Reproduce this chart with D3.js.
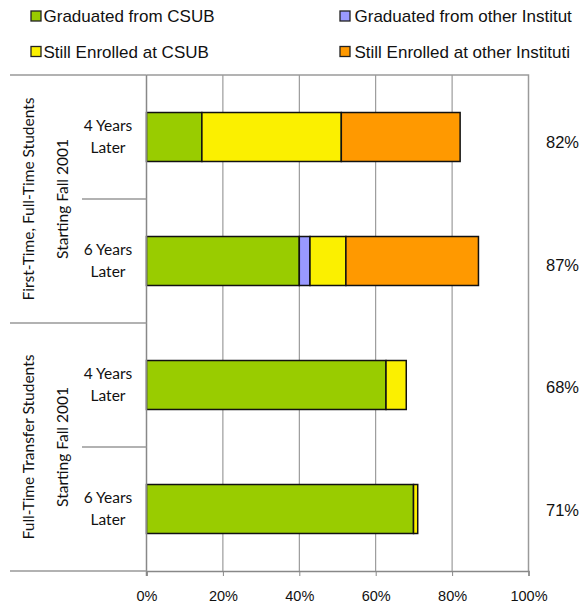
<!DOCTYPE html>
<html>
<head>
<meta charset="utf-8">
<script src="https://cdn.jsdelivr.net/npm/d3@7"></script>
<style>
  body { margin: 0; background: #fff; }
  svg { display: block; }
</style>
</head>
<body>
<svg id="chart" width="585" height="606"></svg>
<script>
// data (percent of cohort)
const rowKeys = ['ft4', 'ft6', 'tr4', 'tr6'];
const rowLabels = [['4 Years', 'Later'], ['6 Years', 'Later'], ['4 Years', 'Later'], ['6 Years', 'Later']];
const groupLabels = [['First-Time, Full-Time Students', 'Starting Fall 2001'], ['Full-Time Transfer Students', 'Starting Fall 2001']];
const seriesNames = ['Graduated from CSUB', 'Graduated from other Institut', 'Still Enrolled at CSUB', 'Still Enrolled at other Instituti'];
const gradCSUB = [14.5, 40.0, 62.7, 69.9];
const gradOther = [0, 2.8, 0, 0];
const enrolledCSUB = [36.5, 9.4, 5.3, 1.1];
const enrolledOther = [31.1, 34.7, 0, 0];
const totalLabels = ['82%', '87%', '68%', '71%'];
const xTicks = [0, 20, 40, 60, 80, 100];
const colors = ['#99cc00', '#9999ff', '#fbf000', '#ff9900'];

const svg = d3.select('#chart');
const margin = { top: 75, left: 146.5, right: 56.5, bottom: 35 };
const W = 585, H = 606;

const x = d3.scaleLinear().domain([0, 100]).range([margin.left, W - margin.right]);
const y = d3.scaleBand().domain(rowKeys).range([margin.top, H - margin.bottom]);
// the total labels sit in their own column, spaced a bit tighter than the bars
const yTotals = d3.scaleBand().domain(rowKeys).range([81, H - margin.bottom]);

// build table for the stack
const table = rowKeys.map((k, i) => ({
    key: k,
    s0: gradCSUB[i], s1: gradOther[i], s2: enrolledCSUB[i], s3: enrolledOther[i]
}));
const stacked = d3.stack().keys(['s0', 's1', 's2', 's3'])(table);

// grid
svg.append('g')
    .selectAll('line')
    .data(xTicks.slice(1, -1))
    .enter()
    .append('line')
    .attr('x1', d => x(d)).attr('x2', d => x(d))
    .attr('y1', margin.top).attr('y2', H - margin.bottom)
    .attr('stroke', '#888').attr('stroke-width', 1);

// plot border (top + right)
svg.append('path')
    .attr('d', `M${x(0)},${margin.top}H${x(100)}V${H - margin.bottom}`)
    .attr('fill', 'none').attr('stroke', '#9a9a9a').attr('stroke-width', 1.5);

// bars
const barH = y.bandwidth() * 0.395;
stacked.forEach((layer, li) => {
    svg.append('g')
        .selectAll('rect')
        .data(layer.filter(d => d[1] - d[0] > 0))
        .enter()
        .append('rect')
        .attr('x', d => x(d[0]))
        .attr('width', d => x(d[1]) - x(d[0]))
        .attr('y', d => y(d.data.key) + (y.bandwidth() - barH) / 2)
        .attr('height', barH)
        .attr('fill', colors[li])
        .attr('stroke', '#111')
        .attr('stroke-width', 1.5);
});

// x axis
const xAxis = svg.append('g')
    .attr('transform', `translate(0,${H - margin.bottom})`)
    .call(d3.axisBottom(x).tickValues(xTicks).tickFormat(d => d + '%').tickSize(5).tickPadding(15));
xAxis.select('.domain').attr('stroke', '#888').attr('stroke-width', 1.5);
xAxis.selectAll('.tick line').attr('stroke', '#888');
xAxis.selectAll('text')
    .attr('font-family', 'Liberation Sans, Arial, sans-serif')
    .attr('font-size', 14.5).attr('fill', '#111');

// left axis line
svg.append('line')
    .attr('x1', x(0)).attr('x2', x(0))
    .attr('y1', margin.top).attr('y2', H - margin.bottom + 5)
    .attr('stroke', '#888').attr('stroke-width', 1.5);

// category separators
const bounds = rowKeys.map(k => y(k)).concat([H - margin.bottom]);
svg.append('g')
    .selectAll('line')
    .data(bounds)
    .enter()
    .append('line')
    .attr('x1', (d, i) => i % 2 === 0 ? 10 : 82)
    .attr('x2', x(0))
    .attr('y1', d => d).attr('y2', d => d)
    .attr('stroke', '#999').attr('stroke-width', 1.3);

// row labels
const labelFont = 'Lato, Open Sans, sans-serif';
rowKeys.forEach((k, i) => {
    const cy = y(k) + y.bandwidth() / 2;
    svg.append('text')
        .attr('x', 108).attr('y', cy - 6.3)
        .attr('text-anchor', 'middle')
        .attr('font-family', labelFont).attr('font-size', 15.5).attr('fill', '#111')
        .text(rowLabels[i][0]);
    svg.append('text')
        .attr('x', 108).attr('y', cy + 15.7)
        .attr('text-anchor', 'middle')
        .attr('font-family', labelFont).attr('font-size', 15.5).attr('fill', '#111')
        .text(rowLabels[i][1]);
});

// group labels (rotated)
groupLabels.forEach((g, gi) => {
    const cy = y(rowKeys[gi * 2 + 1]);
    svg.append('text')
        .attr('transform', `translate(34,${cy}) rotate(-90)`)
        .attr('text-anchor', 'middle')
        .attr('font-family', labelFont).attr('font-size', 15.5).attr('fill', '#111')
        .text(g[0]);
    svg.append('text')
        .attr('transform', `translate(68,${cy}) rotate(-90)`)
        .attr('text-anchor', 'middle')
        .attr('font-family', labelFont).attr('font-size', 15.5).attr('fill', '#111')
        .text(g[1]);
});

// totals on the right
svg.append('g')
    .selectAll('text')
    .data(rowKeys)
    .enter()
    .append('text')
    .attr('x', 562.5)
    .attr('y', d => yTotals(d) + yTotals.bandwidth() / 2 + 6)
    .attr('text-anchor', 'middle')
    .attr('font-family', 'Liberation Sans, Arial, sans-serif')
    .attr('font-size', 16.5).attr('fill', '#111')
    .text((d, i) => totalLabels[i]);

// legend
const legend = svg.append('g')
    .selectAll('g')
    .data(seriesNames)
    .enter()
    .append('g')
    .attr('transform', (d, i) => `translate(${i % 2 === 0 ? 31 : 340},${i < 2 ? 11 : 46.5})`);
legend.append('rect')
    .attr('width', 10).attr('height', 10)
    .attr('fill', (d, i) => colors[i])
    .attr('stroke', '#222').attr('stroke-width', 1.3);
legend.append('text')
    .attr('x', (d, i) => i % 2 === 0 ? 12.5 : 14.5).attr('y', 11)
    .attr('font-family', 'Liberation Sans, Arial, sans-serif')
    .attr('font-size', 17).attr('fill', '#111')
    .text(d => d);
</script>
</body>
</html>
